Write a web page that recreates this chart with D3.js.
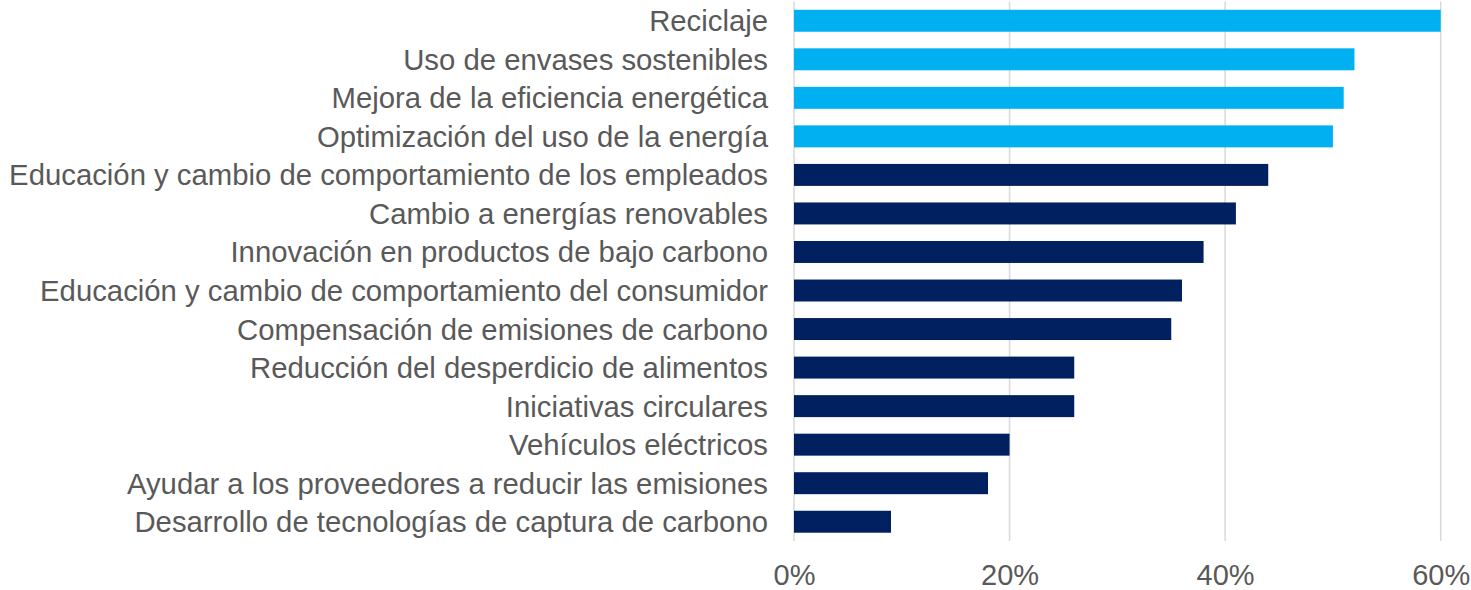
<!DOCTYPE html>
<html>
<head>
<meta charset="utf-8">
<script src="https://cdn.jsdelivr.net/npm/d3@7"></script>
<style>
html,body{margin:0;padding:0;background:#fff;}
svg{display:block;}
</style>
</head>
<body>
<svg id="chart" width="1471" height="590"></svg>
<script>
const categories = [
  "Reciclaje",
  "Uso de envases sostenibles",
  "Mejora de la eficiencia energética",
  "Optimización del uso de la energía",
  "Educación y cambio de comportamiento de los empleados",
  "Cambio a energías renovables",
  "Innovación en productos de bajo carbono",
  "Educación y cambio de comportamiento del consumidor",
  "Compensación de emisiones de carbono",
  "Reducción del desperdicio de alimentos",
  "Iniciativas circulares",
  "Vehículos eléctricos",
  "Ayudar a los proveedores a reducir las emisiones",
  "Desarrollo de tecnologías de captura de carbono"
];
const values = [0.60, 0.52, 0.51, 0.50, 0.44, 0.41, 0.38, 0.36, 0.35, 0.26, 0.26, 0.20, 0.18, 0.09];
const highlighted = [true, true, true, true, false, false, false, false, false, false, false, false, false, false];
const tickValues = [0, 0.2, 0.4, 0.6];
const tickLabels = ["0%", "20%", "40%", "60%"];

const svg = d3.select("#chart");
const margin = {left: 794, right: 30, top: 1.5, bottom: 49};
const W = 1471, H = 590;
const x = d3.scaleLinear().domain([0, 0.6]).range([margin.left, 1440.7]);
const y = d3.scaleBand().domain(categories).range([margin.top, H - margin.bottom]).paddingInner(0.43).paddingOuter(0.215);

const font = "'Liberation Sans', Arial, sans-serif";
const textColor = "#595959";

// gridlines
svg.append("g").selectAll("line").data(tickValues).join("line")
  .attr("x1", d => x(d)).attr("x2", d => x(d))
  .attr("y1", margin.top).attr("y2", H - margin.bottom)
  .attr("stroke", "#d9d9d9").attr("stroke-width", 1.5);

// bars
svg.append("g").selectAll("rect").data(categories).join("rect")
  .attr("x", x(0))
  .attr("y", d => y(d))
  .attr("width", (d, i) => x(values[i]) - x(0))
  .attr("height", y.bandwidth())
  .attr("fill", (d, i) => highlighted[i] ? "#00B0F0" : "#002060");

// category labels
svg.append("g").selectAll("text").data(categories).join("text")
  .attr("x", 768)
  .attr("y", d => y(d) + y.bandwidth() / 2 + 10.5)
  .attr("text-anchor", "end")
  .attr("font-family", font)
  .attr("font-size", 29.3)
  .attr("fill", textColor)
  .text(d => d);

// x axis tick labels
const xAxis = d3.axisBottom(x).tickValues(tickValues).tickFormat((d, i) => tickLabels[i]).tickSize(0).tickPadding(0);
const ax = svg.append("g").attr("transform", `translate(0,${H - margin.bottom})`).call(xAxis);
ax.select(".domain").remove();
ax.selectAll("text")
  .attr("font-family", font)
  .attr("font-size", 29)
  .attr("fill", textColor)
  .attr("dy", null)
  .attr("y", 44);
</script>
</body>
</html>
